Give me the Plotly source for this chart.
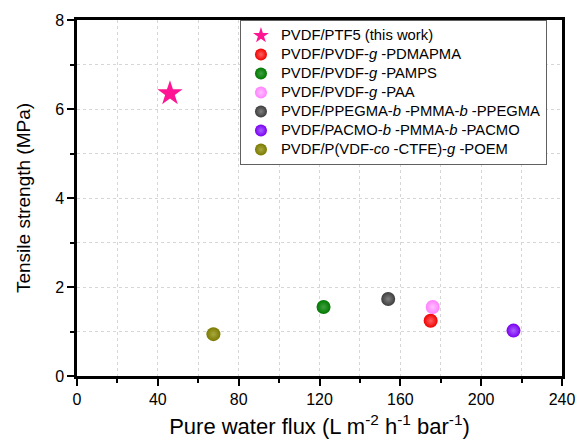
import plotly.graph_objects as go

names = [
    "PVDF/PTF5 (this work)",
    "PVDF/PVDF-<i>g</i> -PDMAPMA",
    "PVDF/PVDF-<i>g</i> -PAMPS",
    "PVDF/PVDF-<i>g</i> -PAA",
    "PVDF/PPEGMA-<i>b</i> -PMMA-<i>b</i> -PPEGMA",
    "PVDF/PACMO-<i>b</i> -PMMA-<i>b</i> -PACMO",
    "PVDF/P(VDF-<i>co</i> -CTFE)-<i>g</i> -POEM",
]
flux = [46.0, 175.0, 122.0, 176.0, 154.0, 216.0, 67.5]
strength = [6.35, 1.24, 1.55, 1.55, 1.73, 1.02, 0.94]
colors = ["#ff1493", "#f00000", "#007800", "#ff80ff", "#3c3c3c", "#7a00f0", "#7a7a00"]
highlights = ["#ff1493", "#ff6060", "#40a040", "#ffc0ff", "#808080", "#a860ff", "#a8a840"]
symbols = ["star", "circle", "circle", "circle", "circle", "circle", "circle"]
sizes = [19, 14, 14, 14, 14, 14, 14]

fig = go.Figure()
for i in range(len(names)):
    marker = dict(color=colors[i], size=sizes[i], symbol=symbols[i], line=dict(width=0))
    if symbols[i] == "circle":
        marker["gradient"] = dict(type="radial", color=highlights[i])
    fig.add_trace(go.Scatter(x=[flux[i]], y=[strength[i]], mode="markers",
                             name='<span style="font-size:14.8px">' + names[i] + '</span>',
                             marker=marker))

grid_color = "#d6d6d6"
axis_common = dict(
    showline=True, linecolor="black", linewidth=2.5, mirror=True,
    ticks="outside", ticklen=7, tickwidth=2, tickcolor="black",
    showgrid=True, gridcolor=grid_color, griddash="dot", gridwidth=1,
    zeroline=False, automargin=False,
    tickfont=dict(family="Liberation Sans, Arial", size=16, color="black"),
)

fig.update_xaxes(range=[0, 240], dtick=40, tick0=0,
                 minor=dict(dtick=20, ticks="outside", ticklen=4, tickwidth=2, tickcolor="black",
                            showgrid=True, gridcolor=grid_color, griddash="dot", gridwidth=1),
                 title=dict(text="Pure water flux (L m<sup>-2</sup> h<sup>-1</sup> bar<sup>-1</sup>)",
                            font=dict(family="Liberation Sans, Arial", size=22, color="black"),
                            standoff=12),
                 **axis_common)
fig.update_yaxes(range=[0, 8], dtick=2, tick0=0,
                 minor=dict(dtick=1, ticks="outside", ticklen=4, tickwidth=2, tickcolor="black",
                            showgrid=True, gridcolor=grid_color, griddash="dot", gridwidth=1),
                 title=dict(text="Tensile strength (MPa)",
                            font=dict(family="Liberation Sans, Arial", size=19, color="black"),
                            standoff=20),
                 **axis_common)

fig.update_layout(
    width=576, height=443,
    margin=dict(l=77, r=14, t=20, b=67),
    paper_bgcolor="white", plot_bgcolor="white",
    showlegend=True,
    legend=dict(x=0.336, y=1, xanchor="left", yanchor="top",
                bgcolor="white", bordercolor="#606060", borderwidth=1,
                font=dict(family="Liberation Sans, Arial", size=12, color="black"),
                tracegroupgap=0, itemsizing="constant"),
)

fig.write_html("out.html", config={"displayModeBar": False},
               post_script="document.body.style.margin='0';")
